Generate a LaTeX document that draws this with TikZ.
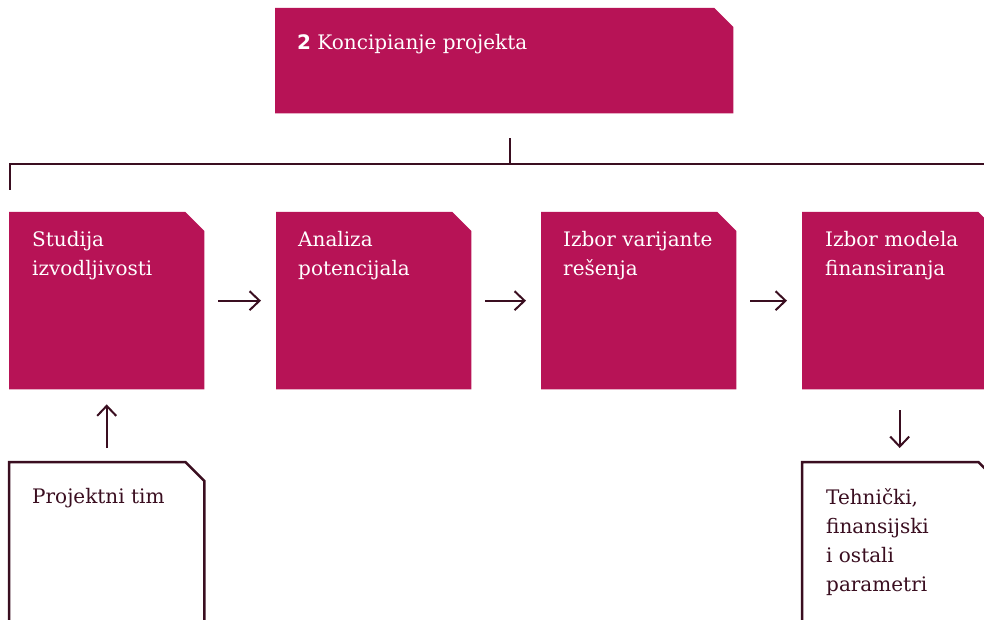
\documentclass[tikz,border=0pt]{standalone}
\usepackage{fontspec}
\setmainfont{DejaVu Serif}
\setsansfont{DejaVu Sans}
\usetikzlibrary{arrows.meta}

\definecolor{berry}{HTML}{B71356}
\definecolor{plum}{HTML}{3A0E20}

\tikzset{
  card/.style={anchor=north west,inner sep=0pt,minimum width=195pt,minimum height=177pt},
  cardtext/.style={anchor=north west,inner sep=0pt,align=left,font=\fontsize{20}{29}\selectfont},
  link/.style={draw=plum,line width=2.5pt},
  flow/.style={draw=plum,line width=2pt,shorten <=14pt,shorten >=15pt,
    -{Straight Barb[length=10pt,width=19pt,line width=2pt]}},
}

% filled card with the top right corner cut off
\newcommand\cutfill[1]{%
  \fill[berry] (#1.south west) |- ([xshift=-19pt]#1.north east)
    -- ([yshift=-19pt]#1.north east) -- (#1.south east) -- cycle;}
% outlined card, open at the bottom
\newcommand\cutopen[1]{%
  \draw[link] (#1.south west) |- ([xshift=-19pt]#1.north east)
    -- ([yshift=-19pt]#1.north east) -- (#1.south east);}

\begin{document}
\begin{tikzpicture}[x=1pt,y=-1pt]
    \useasboundingbox (0,0) rectangle (984,620);
    % phase
    \node[card,minimum width=458pt,minimum height=105pt] (koncept) at (275,8) {};
    \cutfill{koncept}
    \node[cardtext,text=white] (konceptT) at ([shift={(22pt,-26pt)}]koncept.north west)
      {{\sffamily\bfseries 2} Koncipianje projekta};
    % steps
    \node[card] (studija) at (9,212) {};
    \node[card] (analiza) at (276,212) {};
    \node[card] (varijanta) at (541,212) {};
    \node[card] (model) at (802,212) {};
    \foreach \n in {studija,analiza,varijanta,model} {\cutfill{\n}}
    \node[cardtext,text=white] (studijaT) at ([shift={(23pt,-19pt)}]studija.north west)
      {Studija\\izvodljivosti};
    \node[cardtext,text=white] (analizaT) at ([shift={(22pt,-19pt)}]analiza.north west)
      {Analiza\\potencijala};
    \node[cardtext,text=white] (varijantaT) at ([shift={(22pt,-19pt)}]varijanta.north west)
      {Izbor varijante\\rešenja};
    \node[cardtext,text=white] (modelT) at ([shift={(23pt,-19pt)}]model.north west)
      {Izbor modela\\finansiranja};
    % inputs and outputs
    \node[card] (tim) at (9,462) {};
    \node[card] (parametri) at (802,462) {};
    \cutopen{tim}
    \cutopen{parametri}
    \node[cardtext,text=plum] (timT) at ([shift={(23pt,-26pt)}]tim.north west)
      {Projektni tim};
    \node[cardtext,text=plum] (parametriT) at ([shift={(24pt,-26pt)}]parametri.north west)
      {Tehnički,\\finansijski\\i ostali\\parametri};
    % connectors
    \draw[link] ([shift={(6pt,-25pt)}]koncept.south) -- ([shift={(6pt,-52pt)}]koncept.south);
    \draw[link] ([shift={(1pt,22pt)}]studija.north west) -- ([shift={(1pt,48pt)}]studija.north west)
      -| ([yshift=22pt]model.north east);
    \foreach \a/\b in {studija/analiza,analiza/varijanta,varijanta/model}
      \draw[flow] (\a) -- (\b);
    \draw[flow] (tim) -- (studija);
    \draw[flow,shorten <=21pt,shorten >=14pt] (model) -- (parametri);
\end{tikzpicture}
\end{document}
